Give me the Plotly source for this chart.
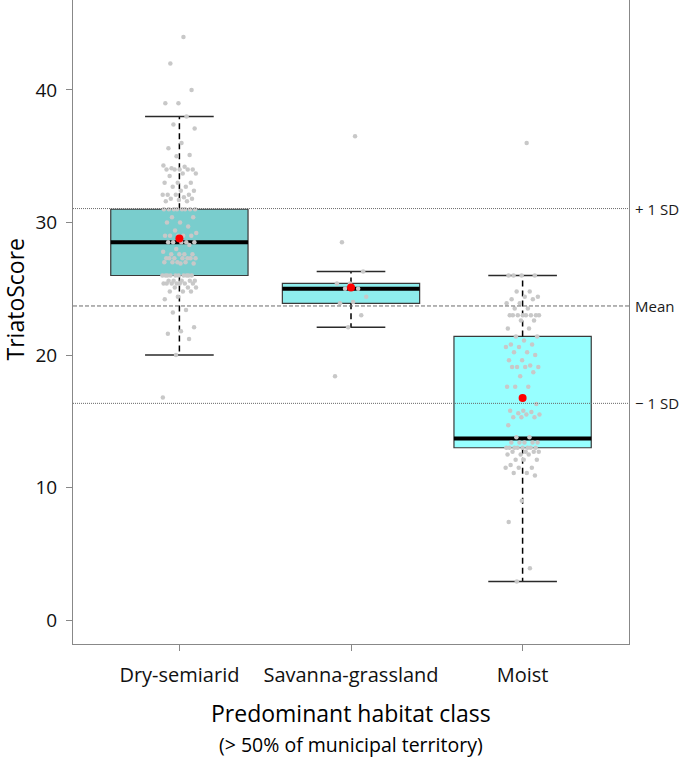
import plotly.graph_objects as go

# ---------------- data ----------------
categories = ["Dry-semiarid", "Savanna-grassland", "Moist"]
group_pos = [1, 2, 3]

q1 = [26.0, 23.9, 13.0]
medians = [28.5, 25.0, 13.7]
q3 = [31.0, 25.4, 21.4]
whisker_low = [20.0, 22.1, 2.9]
whisker_high = [38.0, 26.3, 26.0]
means = [28.8, 25.1, 16.75]

ref_values = [31.05, 23.7, 16.35]
ref_labels = ["+ 1 SD", "Mean", "\u2212 1 SD"]

y_ticks = [0, 10, 20, 30, 40]

dry_scores = [
    44.0, 42.0, 40.0, 39.0, 39.0, 38.0, 37.4, 37.1, 36.0, 35.6, 35.1, 35.0,
    34.3, 34.2, 34.1, 34.0, 34.0, 34.0, 34.0, 34.0, 33.7, 33.7, 33.5,
    33.0, 33.0, 33.0, 32.7, 32.7, 32.4, 32.4, 32.1, 32.1, 32.1, 32.1,
    31.9, 31.8, 31.8, 31.7, 31.6, 31.6,
    31.0, 31.0, 31.0, 31.0, 31.0, 31.0, 31.0, 31.0,
    30.4, 30.4, 30.0, 30.0, 29.7, 29.4, 29.2,
    29.0, 29.0, 29.0, 29.0, 29.0,
    28.5, 28.5, 28.5, 28.5, 28.5, 28.3, 28.0, 27.8,
    27.6, 27.6, 27.6, 27.6,
    27.3, 27.3, 27.3, 27.3, 27.3, 27.3, 27.3,
    27.0, 27.0, 27.0, 27.0, 26.9, 26.9,
    26.0, 26.0, 26.0, 26.0, 26.0, 26.0, 26.0, 26.0, 26.0, 26.0,
    25.6, 25.6, 25.6, 25.6, 25.6,
    25.4, 25.4, 25.4, 25.4, 25.4, 25.4, 25.4,
    25.1, 25.1, 25.1, 24.8, 24.8, 24.8, 24.4, 24.2,
    23.4, 23.2, 22.1, 21.8, 21.6, 21.2, 20.0, 16.8,
]

savanna_scores = [36.5, 28.5, 26.3, 25.4, 25.4, 25.0, 25.0, 24.4, 24.0,
                  23.9, 23.0, 22.1, 18.4]

moist_scores = [
    36.0, 26.0, 26.0, 26.0, 26.0, 24.8, 24.8, 24.4, 24.4, 24.2, 24.2,
    23.9, 23.9, 23.5, 23.5,
    23.0, 23.0, 23.0, 23.0, 23.0, 23.0, 23.0, 23.0,
    22.6, 22.6, 22.0, 22.0, 21.4, 21.4, 21.1, 20.8, 20.8, 20.6, 20.6,
    20.2, 20.2, 20.0, 19.6, 19.6, 19.2, 19.1, 19.1, 19.1, 19.1, 18.7, 18.4,
    17.6, 17.6, 17.6, 16.3, 15.8, 15.8, 15.7, 15.6, 15.5, 15.5,
    15.3, 15.3, 15.3, 14.7, 13.8, 13.8,
    13.4, 13.4, 13.4, 13.4, 13.4,
    13.0, 13.0, 13.0, 13.0, 13.0, 13.0, 13.0, 13.0,
    12.7, 12.7, 12.7, 12.7, 12.5, 12.5, 12.5, 12.1, 12.1, 12.1,
    11.7, 11.5, 11.5, 11.5, 11.1, 11.1, 10.9, 9.0, 7.4, 3.9, 2.9,
]

group_scores = [dry_scores, savanna_scores, moist_scores]

# ---------------- styles ----------------
FONT = "Open Sans"
box_fills = ["#79CDCD", "#8EEDED", "#97FFFF"]
BOX_HALF = 0.4
CAP_HALF = 0.2
JITTER_HALF = 0.1

fig = go.Figure()

# box bodies
for pos, a, m, b, col in zip(group_pos, q1, medians, q3, box_fills):
    fig.add_trace(go.Box(
        x=[pos], q1=[a], median=[m], q3=[b], lowerfence=[a], upperfence=[b],
        width=2 * BOX_HALF, fillcolor=col, whiskerwidth=0,
        line=dict(color="#3a3a3a", width=1.2), boxpoints=False,
        hoverinfo="skip", showlegend=False,
    ))

# dashed whiskers
wx, wy = [], []
for pos, a, b, lo, hi in zip(group_pos, q1, q3, whisker_low, whisker_high):
    wx += [pos, pos, None, pos, pos, None]
    wy += [b, hi, None, a, lo, None]
fig.add_trace(go.Scatter(x=wx, y=wy, mode="lines",
                         line=dict(color="black", width=1.5, dash="6px,4px"),
                         hoverinfo="skip", showlegend=False))

# whisker caps
cx, cy = [], []
for pos, lo, hi in zip(group_pos, whisker_low, whisker_high):
    cx += [pos - CAP_HALF, pos + CAP_HALF, None, pos - CAP_HALF, pos + CAP_HALF, None]
    cy += [hi, hi, None, lo, lo, None]
fig.add_trace(go.Scatter(x=cx, y=cy, mode="lines",
                         line=dict(color="#2a2a2a", width=1.5),
                         hoverinfo="skip", showlegend=False))

# thick medians
mx, my = [], []
for pos, m in zip(group_pos, medians):
    mx += [pos - BOX_HALF, pos + BOX_HALF, None]
    my += [m, m, None]
fig.add_trace(go.Scatter(x=mx, y=my, mode="lines",
                         line=dict(color="black", width=4),
                         hoverinfo="skip", showlegend=False))

# jittered points (deterministic golden-ratio jitter)
GOLD = 0.6180339887
for pos, scores in zip(group_pos, group_scores):
    xs = [pos + ((((k + 1) * GOLD) % 1.0) - 0.5) * 2 * JITTER_HALF
          for k in range(len(scores))]
    fig.add_trace(go.Scatter(x=xs, y=scores, mode="markers",
                             marker=dict(color="#c8c8c8", size=4.5),
                             hoverinfo="skip", showlegend=False))

# means
fig.add_trace(go.Scatter(x=group_pos, y=means, mode="markers",
                         marker=dict(color="#ff0000", size=8),
                         hoverinfo="skip", showlegend=False))

# reference lines + labels
ref_dash = ["1px,1px", "4px,2px", "1px,1px"]
for val, lab, dsh in zip(ref_values, ref_labels, ref_dash):
    fig.add_shape(type="line", xref="paper", x0=0, x1=1, yref="y", y0=val, y1=val,
                  line=dict(color="#6a6a6a", width=1, dash=dsh), layer="above")
    fig.add_annotation(xref="paper", x=1, y=val, yref="y", text=lab,
                       showarrow=False, xanchor="left", xshift=4,
                       font=dict(family=FONT, size=15, color="#1a1a1a"))

# axis titles
fig.add_annotation(xref="paper", yref="paper", x=0.5, y=0, yshift=-69,
                   text="Predominant habitat class", showarrow=False,
                   xanchor="center", yanchor="middle",
                   font=dict(family=FONT, size=23, color="black"))
fig.add_annotation(xref="paper", yref="paper", x=0.5, y=0, yshift=-100,
                   text="(> 50% of municipal territory)", showarrow=False,
                   xanchor="center", yanchor="middle",
                   font=dict(family=FONT, size=19.5, color="black"))
fig.add_annotation(xref="paper", yref="paper", x=0, xshift=-58, y=0.535,
                   text="TriatoScore", showarrow=False, textangle=-90,
                   xanchor="center", yanchor="middle",
                   font=dict(family=FONT, size=23, color="black"))

fig.update_layout(
    width=685, height=757,
    margin=dict(l=73, r=56, t=0, b=113),
    paper_bgcolor="white", plot_bgcolor="white",
    font=dict(family=FONT, color="black"),
    showlegend=False,
    xaxis=dict(range=[0.38, 3.62], tickmode="array", tickvals=group_pos,
               ticktext=categories, ticks="outside", ticklen=6,
               tickcolor="#888888", showline=True, linecolor="#888888",
               linewidth=1, mirror=True, showgrid=False, zeroline=False,
               tickfont=dict(family=FONT, size=20, color="#111111"),
               ticklabelstandoff=7),
    yaxis=dict(range=[-1.81, 46.79], tickmode="array", tickvals=y_ticks,
               ticks="outside", ticklen=6, tickcolor="#888888",
               showline=True, linecolor="#888888", linewidth=1, mirror=True,
               showgrid=False, zeroline=False,
               tickfont=dict(family=FONT, size=19, color="#111111"),
               ticklabelstandoff=5),
)

fig.write_html(
    "out.html",
    config={"displayModeBar": False},
    post_script="document.body.style.margin='0';document.body.style.overflow='hidden';",
)
